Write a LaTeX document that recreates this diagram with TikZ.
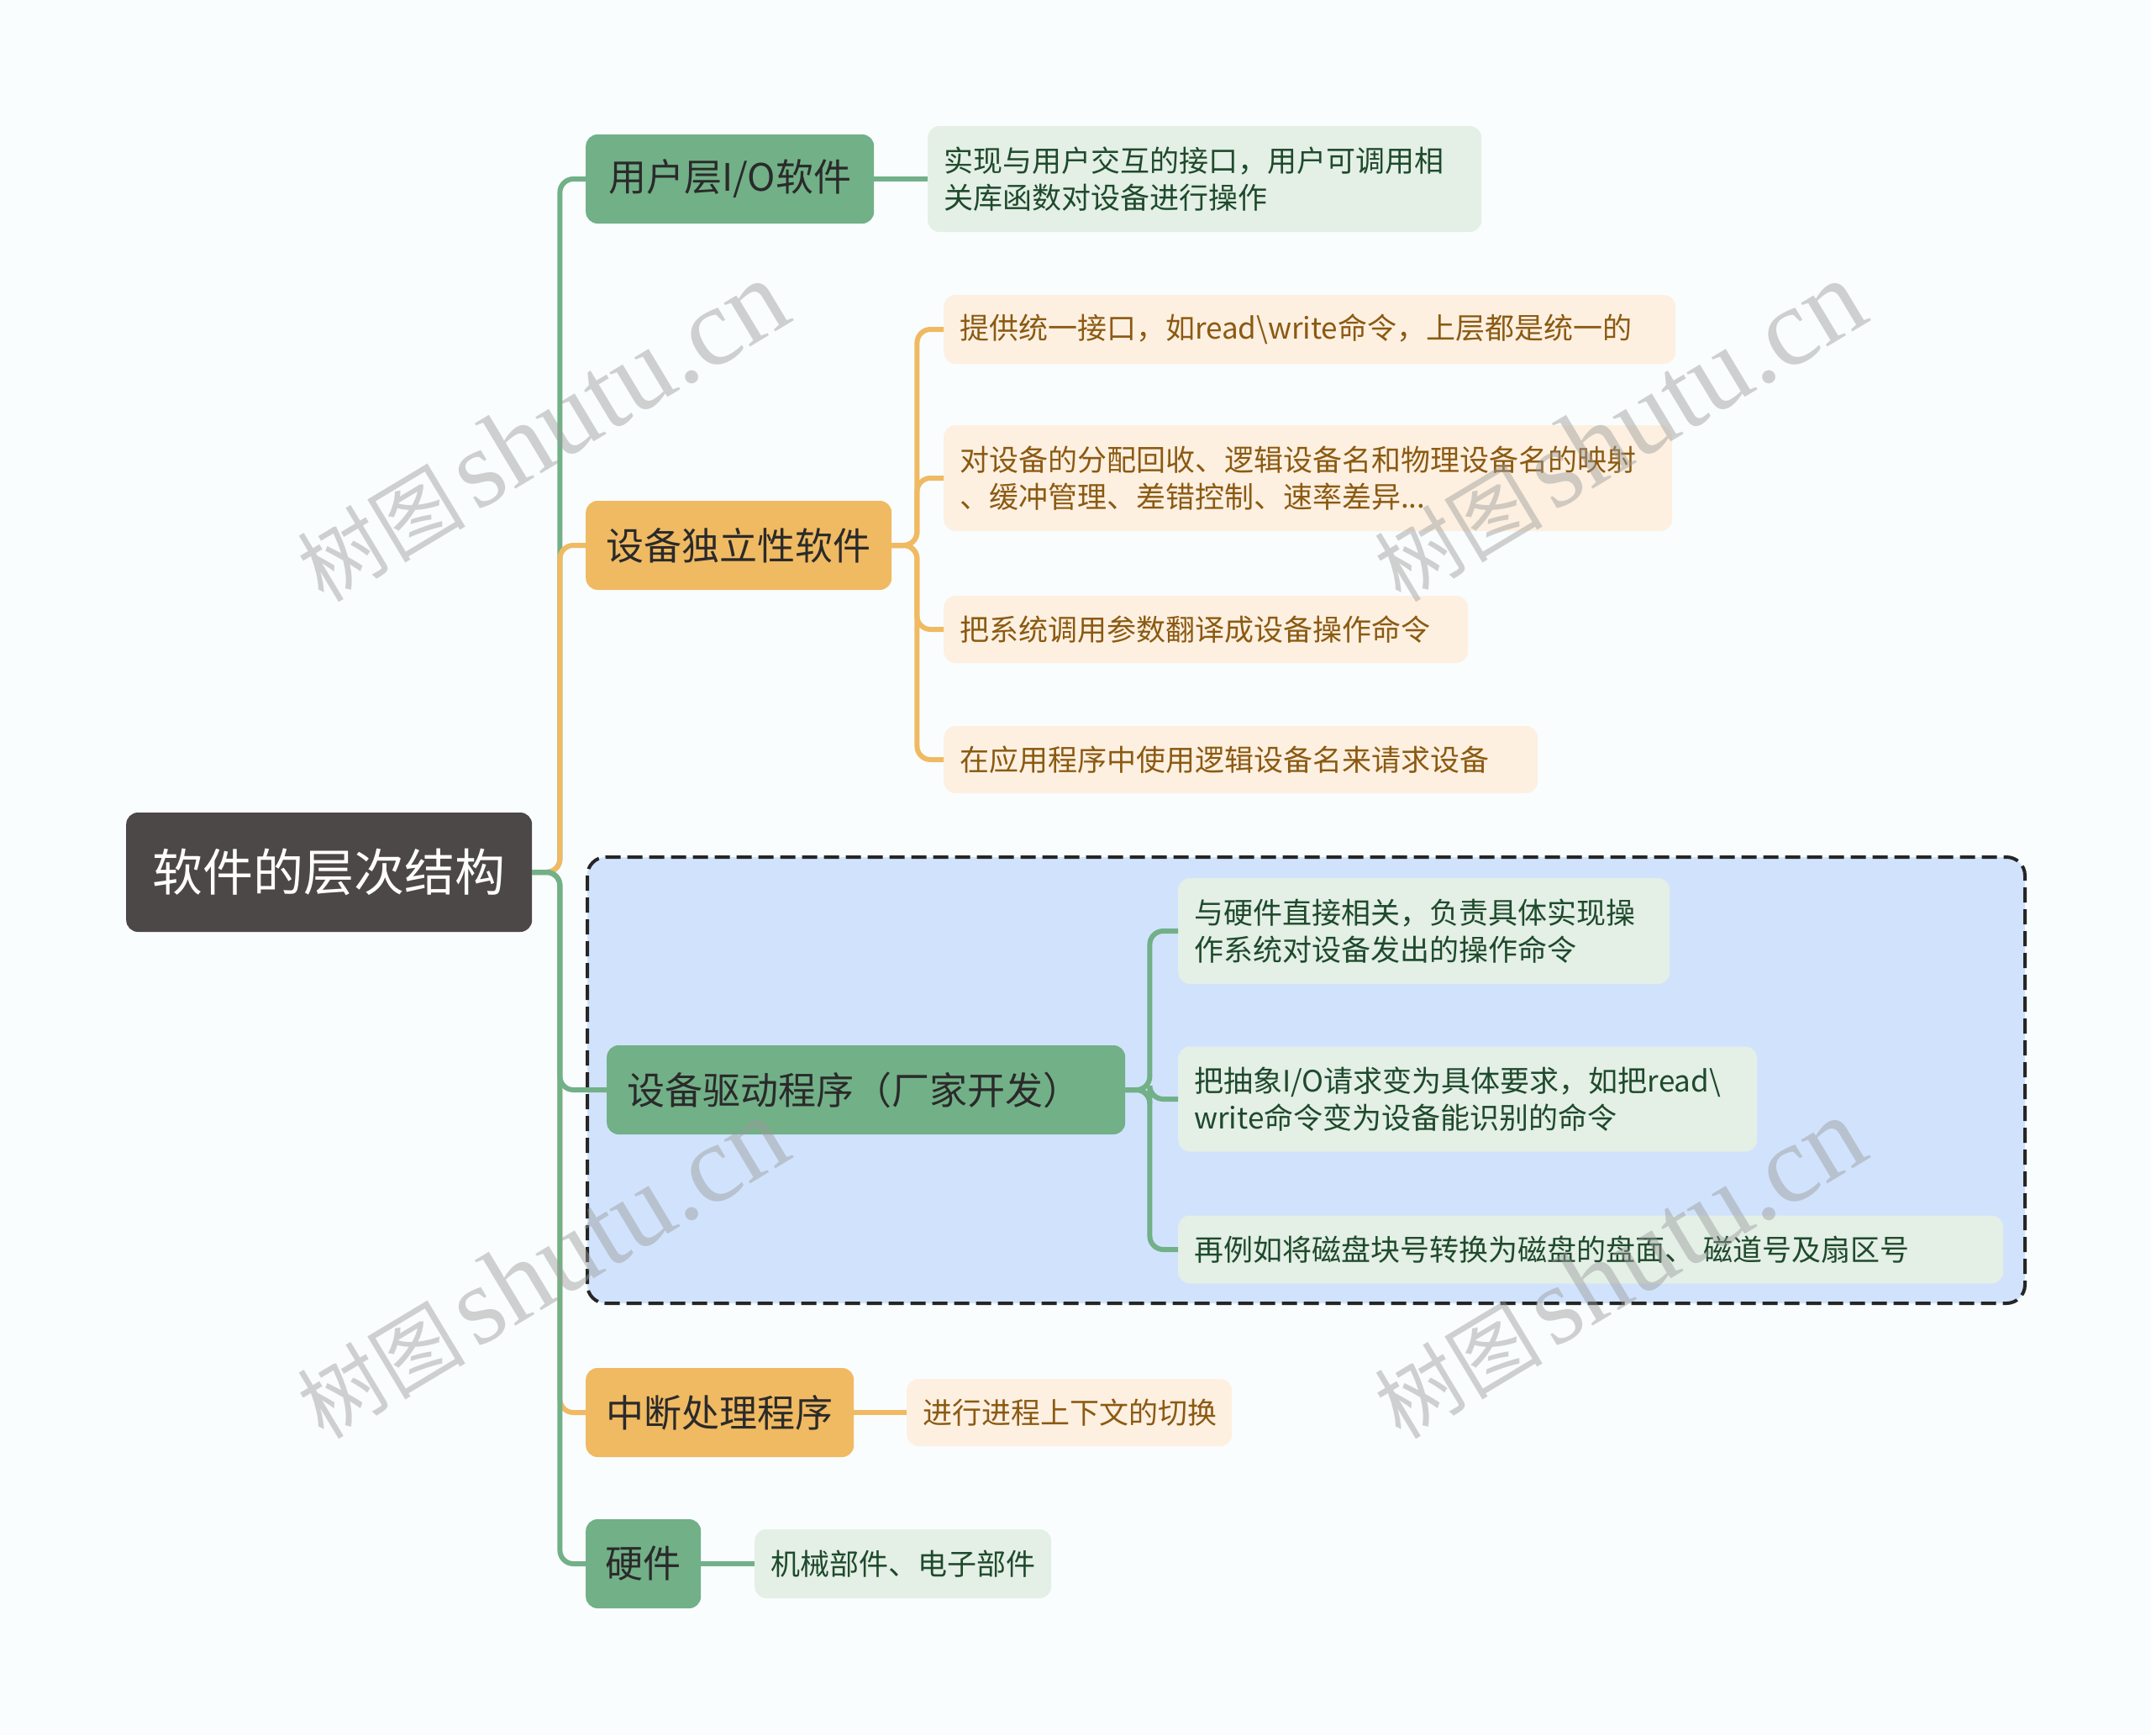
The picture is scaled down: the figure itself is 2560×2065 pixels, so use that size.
\documentclass[tikz,border=0pt]{standalone}
\usepackage{fontspec}
\setmainfont{Noto Sans CJK SC}
\newfontfamily\wmserif{Liberation Serif}
\definecolor{bgc}{HTML}{F9FDFE}
\definecolor{rootc}{HTML}{4D4848}
\definecolor{grn}{HTML}{72B088}
\definecolor{org}{HTML}{F0BA62}
\definecolor{lgrn}{HTML}{E4EFE6}
\definecolor{lorg}{HTML}{FDF0E1}
\definecolor{boxc}{HTML}{D1E3FC}
\definecolor{gtxt}{HTML}{1E4A2C}
\definecolor{otxt}{HTML}{8B5A12}
\definecolor{btxt}{HTML}{2A2A2A}
\definecolor{wmc}{HTML}{9A9A9A}
\tikzset{
  rootbox/.style={fill=rootc, text=white, rounded corners=14pt, inner sep=0pt,
    minimum width=483pt, minimum height=142pt, align=center, anchor=west,
    font=\fontsize{60}{72}\selectfont},
  branch/.style={rounded corners=14pt, inner sep=0pt, minimum height=106pt,
    align=center, anchor=west, text=btxt, font=\fontsize{45}{54}\selectfont},
  gbranch/.style={branch, fill=grn},
  obranch/.style={branch, fill=org},
  leaf/.style={rounded corners=14pt, inner xsep=19pt, inner ysep=0pt, anchor=west,
    align=left, font=\fontsize{35}{44}\selectfont},
  gleaf/.style={leaf, fill=lgrn, text=gtxt},
  oleaf/.style={leaf, fill=lorg, text=otxt},
  conn/.style={line width=6pt, rounded corners=16pt},
  gline/.style={conn, draw=grn},
  oline/.style={conn, draw=org},
  wm/.style={text=wmc, opacity=0.45, rotate=31, inner sep=0pt}
}
\begin{document}
\begin{tikzpicture}[x=1pt, y=-1pt]
\fill[bgc] (0,0) rectangle (2560,2065);
\useasboundingbox (0,0) rectangle (2560,2065);

% dashed frame
\draw[fill=boxc, draw=black!85, line width=4pt, dash pattern=on 18pt off 8pt, rounded corners=22pt]
  (699,1020) rectangle (2410,1551);

% nodes
\node[rootbox] (root) at (150,1038) {软件的层次结构};

\node[gbranch, minimum width=343pt] (n1) at (697,213) {用户层I/O软件};
\node[obranch, minimum width=364pt] (n2) at (697,649) {设备独立性软件};
\node[gbranch, minimum width=617pt] (n3) at (722,1297) {\makebox[569pt][l]{设备驱动程序（厂家开发）}};
\node[obranch, minimum width=319pt] (n4) at (697,1681) {中断处理程序};
\node[gbranch, minimum width=137pt] (n5) at (697,1861) {硬件};

\node[gleaf, text width=621pt, minimum height=126pt] (l1) at (1104,213)
  {\mbox{实现与用户交互的接口，用户可调用相}\\\mbox{关库函数对设备进行操作}};

\node[oleaf, text width=833pt, minimum height=82pt] (o1) at (1123,392)
  {\mbox{提供统一接口，如read\textbackslash write命令，上层都是统一的}};
\node[oleaf, text width=829pt, minimum height=126pt] (o2) at (1123,569)
  {\mbox{对设备的分配回收、逻辑设备名和物理设备名的映射}\\\mbox{、缓冲管理、差错控制、速率差异...}};
\node[oleaf, text width=586pt, minimum height=80pt] (o3) at (1123,749)
  {\mbox{把系统调用参数翻译成设备操作命令}};
\node[oleaf, text width=669pt, minimum height=80pt] (o4) at (1123,904)
  {\mbox{在应用程序中使用逻辑设备名来请求设备}};

\node[gleaf, text width=547pt, minimum height=126pt] (g1) at (1402,1108)
  {\mbox{与硬件直接相关，负责具体实现操}\\\mbox{作系统对设备发出的操作命令}};
\node[gleaf, text width=651pt, minimum height=125pt] (g2) at (1402,1308)
  {\mbox{把抽象I/O请求变为具体要求，如把read\textbackslash}\\\mbox{write命令变为设备能识别的命令}};
\node[gleaf, text width=944pt, minimum height=81pt] (g3) at (1402,1487)
  {\mbox{再例如将磁盘块号转换为磁盘的盘面、\ 磁道号及扇区号}};

\node[oleaf, text width=349pt, minimum height=80pt] (li) at (1079,1681)
  {\mbox{进行进程上下文的切换}};
\node[gleaf, text width=315pt, minimum height=82pt] (lh) at (898,1861)
  {\mbox{机械部件、电子部件}};

% connectors
\draw[gline] (root.east) -- ++(33,0) |- (n1.west);
\draw[oline] (root.east) -- ++(33,0) |- (n4.west);
\draw[oline] (root.east) -- ++(33,0) |- (n2.west);
\draw[gline] (root.east) -- ++(33,0) |- (n3.west);
\draw[gline] (root.east) -- ++(33,0) |- (n5.west);

\draw[gline] (n1.east) -- (l1.west);
\draw[oline] (n2.east) -- ++(30,0) |- (o1.west);
\draw[oline] (n2.east) -- ++(30,0) |- (o2.west);
\draw[oline] (n2.east) -- ++(30,0) |- (o3.west);
\draw[oline] (n2.east) -- ++(30,0) |- (o4.west);
\draw[gline] (n3.east) -- ++(29,0) |- (g1.west);
\draw[gline] (n3.east) -- ++(29,0) |- (g2.west);
\draw[gline] (n3.east) -- ++(29,0) |- (g3.west);
\draw[oline] (n4.east) -- (li.west);
\draw[gline] (n5.east) -- (lh.west);

% watermarks
\foreach \p/\q in {645/514, 1927/514, 645/1510, 1927/1510}{
  \node[wm] at (\p,\q) {\fontsize{100}{120}\selectfont 树图\hspace{12pt}{\wmserif\fontsize{132}{140}\selectfont shutu.cn}};
}
\end{tikzpicture}
\end{document}
